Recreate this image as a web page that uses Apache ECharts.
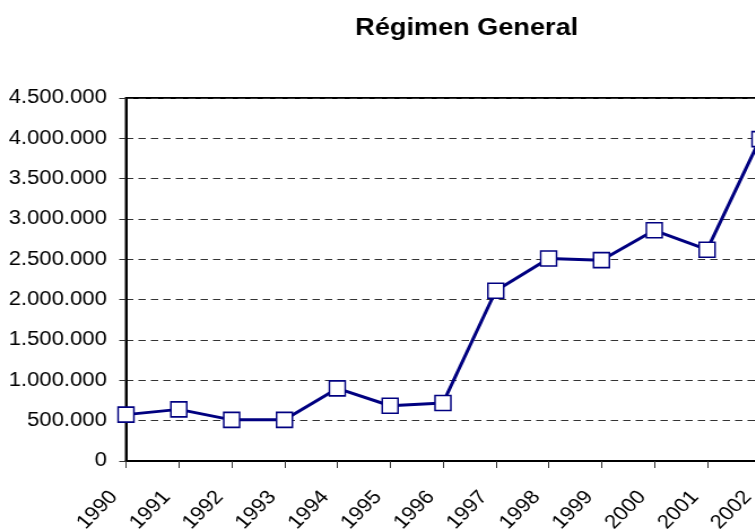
<!DOCTYPE html>
<html>
<head>
<meta charset="utf-8">
<script src="https://cdn.jsdelivr.net/npm/echarts@6/dist/echarts.min.js"></script>
<style>
  html, body { margin: 0; padding: 0; background: #fff; overflow: hidden; }
  #wrap { width: 755px; height: 529px; overflow: hidden; position: relative; }
  /* El gráfico se dibuja algo más estrecho y se ensancha en horizontal */
  #chart { width: 668px; height: 529px; transform: scaleX(1.13); transform-origin: 0 0; }
</style>
</head>
<body>
<div id="wrap"><div id="chart"></div></div>
<script>
// Años del eje horizontal
const years = ['1990', '1991', '1992', '1993', '1994', '1995', '1996',
               '1997', '1998', '1999', '2000', '2001', '2002'];
// Valores anuales del Régimen General
const regimenGeneral = [575000, 640000, 510000, 510000, 900000, 685000, 720000,
                        2110000, 2510000, 2490000, 2860000, 2620000, 3990000];
// Escala del eje vertical
const yMin = 0;
const yMax = 4500000;
const yStep = 500000;

const FONT = "'Liberation Sans', Arial, sans-serif";

// Separador de miles con punto
function miles(v) {
  return String(v).replace(/\B(?=(\d{3})+(?!\d))/g, '.');
}

const chart = echarts.init(document.getElementById('chart'), null, { renderer: 'canvas' });

chart.setOption({
  animation: false,
  backgroundColor: '#ffffff',
  title: {
    text: 'Régimen General',
    left: 408,
    top: 11,
    textAlign: 'center',
    textStyle: { fontFamily: FONT, fontSize: 24, fontWeight: 'bold', color: '#000' }
  },
  grid: {
    left: 111.5,
    right: -4.5,
    top: 98,
    bottom: 68,
    outerBoundsMode: 'none',
    containLabel: false,
    show: true,
    borderColor: '#000',
    borderWidth: 2,
    backgroundColor: 'transparent'
  },
  xAxis: {
    type: 'category',
    data: years,
    boundaryGap: false,
    axisLine: { show: true, lineStyle: { color: '#000', width: 2 } },
    axisTick: { show: true, alignWithLabel: true, length: 7, lineStyle: { color: '#333', width: 1 } },
    axisLabel: {
      rotate: 48,
      interval: 0,
      margin: 21,
      padding: [0, 16, 0, 0],
      fontFamily: FONT,
      fontSize: 19.5,
      color: '#000',
      hideOverlap: false
    },
    splitLine: { show: false }
  },
  yAxis: {
    type: 'value',
    min: yMin,
    max: yMax,
    interval: yStep,
    axisLine: { show: true, lineStyle: { color: '#000', width: 2 } },
    axisTick: { show: true, length: 6, lineStyle: { color: '#333', width: 1 } },
    axisLabel: {
      margin: 17,
      fontFamily: FONT,
      fontSize: 19.5,
      color: '#000',
      formatter: miles
    },
    splitLine: {
      show: true,
      lineStyle: { color: '#333', width: 1, type: [6.5, 4.5] }
    }
  },
  series: [{
    name: 'Régimen General',
    type: 'line',
    data: regimenGeneral,
    symbol: 'rect',
    symbolSize: [14, 15],
    lineStyle: { color: '#000080', width: 3 },
    itemStyle: { color: '#ffffff', borderColor: '#000080', borderWidth: 1.5 },
    clip: false
  }]
});
</script>
</body>
</html>
